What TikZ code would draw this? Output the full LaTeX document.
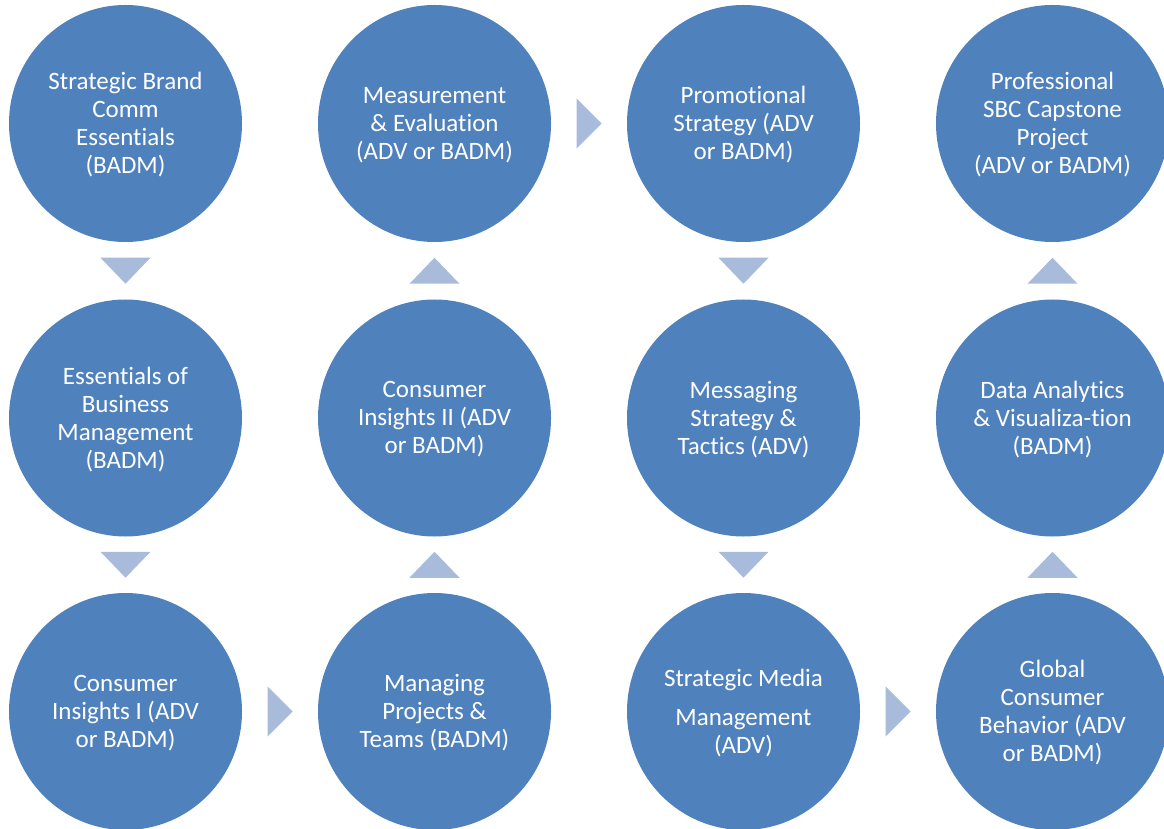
\documentclass[tikz,border=0pt]{standalone}
\usepackage{fontspec}
\setmainfont{Carlito}[Ligatures=NoCommon]
\usetikzlibrary{shapes.geometric,calc}

\definecolor{discblue}{HTML}{4F81BD}
\definecolor{flowblue}{HTML}{A9BBDA}

\tikzset{
  course/.style={ellipse, fill=discblue, draw=none, inner sep=0pt,
    minimum width=233pt, minimum height=237pt,
    label={[coursetext]center:{#1}}},
  coursetext/.style={text=white, align=center, yshift=-1.5pt,
    font=\fontsize{25}{28}\selectfont},
  pics/tridown/.style={code={\fill[flowblue] (-25,13) -- (25,13) -- (0,-13) -- cycle;}},
  pics/triup/.style={code={\fill[flowblue] (-25,-13) -- (25,-13) -- (0,13) -- cycle;}},
  pics/triright/.style={code={\fill[flowblue] (-12.5,25) -- (-12.5,-25) -- (12.5,0) -- cycle;}},
}

\begin{document}
\begin{tikzpicture}[x=1pt,y=1pt]
  \useasboundingbox (0,0) rectangle (1164,828);
  \clip (0,0) rectangle (1164,828);

  % column 1
  \node[course={Strategic Brand\\Comm\\Essentials\\(BADM)}] (c11) at (125.5,704.5) {};
  \node[course={Essentials of\\Business\\Management\\(BADM)}] (c12) at (125.5,410) {};
  \node[course={Consumer\\Insights I (ADV\\or BADM)}] (c13) at (125.5,116.5) {};
  % column 2
  \node[course={Managing\\Projects \&\\Teams (BADM)}] (c23) at (434.5,116.5) {};
  \node[course={Consumer\\Insights II (ADV\\or BADM)}] (c22) at (434.5,410) {};
  \node[course={Measurement\\\& Evaluation\\(ADV or BADM)}] (c21) at (434.5,704.5) {};
  % column 3
  \node[course={Promotional\\Strategy (ADV\\or BADM)}] (c31) at (743.5,704.5) {};
  \node[course={Messaging\\Strategy \&\\Tactics (ADV)}] (c32) at (743.5,410) {};
  \node[course={Strategic Media\\[11pt]Management\\(ADV)}] (c33) at (743.5,116.5) {};
  % column 4
  \node[course={Global\\Consumer\\Behavior (ADV\\or BADM)}] (c43) at (1052.5,116.5) {};
  \node[course={Data Analytics\\\& Visualiza-tion\\(BADM)}] (c42) at (1052.5,410) {};
  \node[course={Professional\\SBC Capstone\\Project\\(ADV or BADM)}] (c41) at (1052.5,704.5) {};

  % flow markers between consecutive courses
  \pic at ($(c11)!0.5!(c12)$) {tridown};
  \pic at ($(c12)!0.5!(c13)$) {tridown};
  \pic at ($(c13)!0.5!(c23)$) {triright};
  \pic at ($(c23)!0.5!(c22)$) {triup};
  \pic at ($(c22)!0.5!(c21)$) {triup};
  \pic at ($(c21)!0.5!(c31)$) {triright};
  \pic at ($(c31)!0.5!(c32)$) {tridown};
  \pic at ($(c32)!0.5!(c33)$) {tridown};
  \pic at ($(c33)!0.5!(c43)$) {triright};
  \pic at ($(c43)!0.5!(c42)$) {triup};
  \pic at ($(c42)!0.5!(c41)$) {triup};
\end{tikzpicture}
\end{document}
